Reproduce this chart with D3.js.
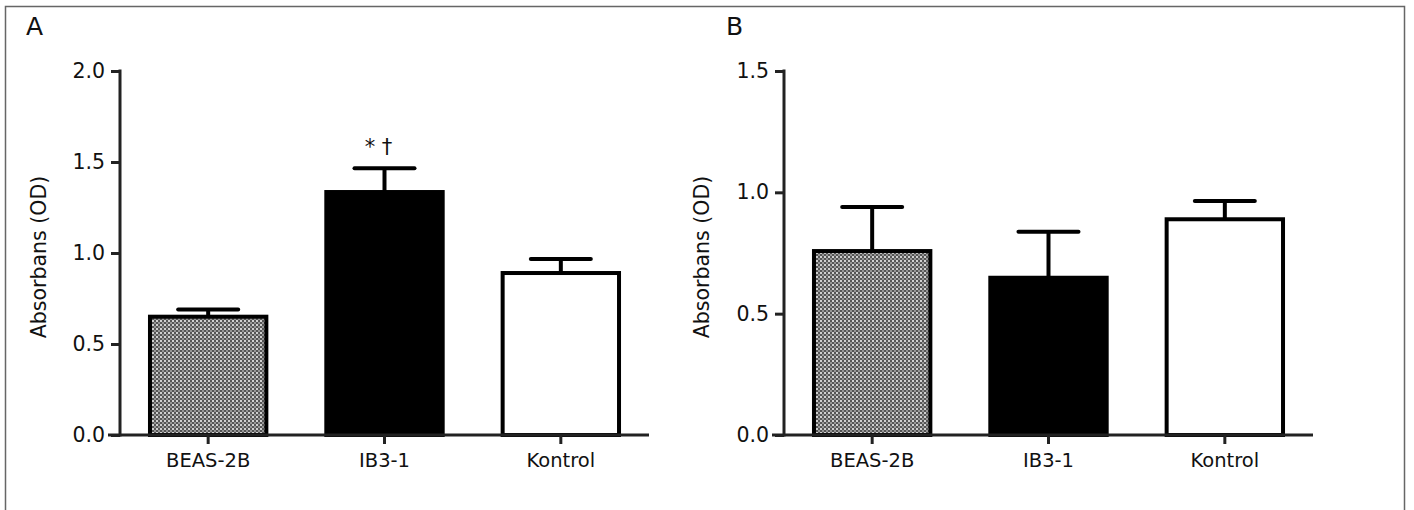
<!DOCTYPE html>
<html>
<head>
<meta charset="utf-8">
<script src="https://cdn.jsdelivr.net/npm/d3@7"></script>
<style>
  body { margin: 0; background: #fff; }
  text { font-family: "DejaVu Sans", "Liberation Sans", Arial, sans-serif; fill: #111; }
</style>
</head>
<body>
<svg width="1414" height="510"></svg>
<script>
var svg = d3.select("svg");

// data
var categories = ["BEAS-2B", "IB3-1", "Kontrol"];
var meansA = [0.65, 1.335, 0.89];
var errA = [0.04, 0.13, 0.077];
var meansB = [0.758, 0.648, 0.889];
var errB = [0.182, 0.19, 0.075];
var ticksA = [0, 0.5, 1.0, 1.5, 2.0];
var ticksB = [0, 0.5, 1.0, 1.5];
var fills = ["url(#dots)", "#000", "#fff"];

// dotted grey fill used for BEAS-2B
var defs = svg.append("defs");
var pat = defs.append("pattern")
    .attr("id", "dots")
    .attr("width", 4).attr("height", 4)
    .attr("patternUnits", "userSpaceOnUse");
pat.append("rect").attr("width", 4).attr("height", 4).attr("fill", "#555");
pat.append("rect").attr("x", 0).attr("y", 0).attr("width", 2).attr("height", 2).attr("fill", "#d0d0d0");
pat.append("rect").attr("x", 2).attr("y", 2).attr("width", 2).attr("height", 2).attr("fill", "#969696");

// outer frame
svg.append("rect")
    .attr("x", 5.5).attr("y", 6.5)
    .attr("width", 1399).attr("height", 520)
    .attr("fill", "none")
    .attr("stroke", "#666")
    .attr("stroke-width", 1.5);

function panel(opts) {
  var g = svg.append("g");

  var x = d3.scaleBand()
      .domain(categories)
      .range([opts.left, opts.left + 529])
      .paddingInner(0.34)
      .paddingOuter(0.17);

  var y = d3.scaleLinear()
      .domain([0, opts.max])
      .range([435, 71]);

  // y axis
  var yAxis = g.append("g")
      .attr("transform", "translate(" + opts.left + ",0)")
      .call(d3.axisLeft(y)
          .tickValues(opts.ticks)
          .tickFormat(d3.format(".1f"))
          .tickSize(9)
          .tickPadding(6));
  yAxis.select(".domain").remove();
  yAxis.selectAll(".tick line").attr("stroke", "#222").attr("stroke-width", 3);
  yAxis.selectAll(".tick text")
      .style("font-family", "'DejaVu Sans', sans-serif")
      .style("font-size", "20.5px")
      .attr("fill", "#111");
  g.append("line")
      .attr("x1", opts.left).attr("x2", opts.left)
      .attr("y1", y(opts.max) - 1.5).attr("y2", y(0) + 1.5)
      .attr("stroke", "#222").attr("stroke-width", 3);

  // bars
  g.selectAll(".bar")
    .data(opts.means)
    .enter().append("rect")
      .attr("class", "bar")
      .attr("x", function(d, i) { return x(categories[i]); })
      .attr("y", function(d) { return y(d); })
      .attr("width", x.bandwidth())
      .attr("height", function(d) { return y(0) - y(d); })
      .attr("fill", function(d, i) { return fills[i]; })
      .attr("stroke", "#000")
      .attr("stroke-width", 4);

  // upper error bars
  var eb = g.selectAll(".err")
    .data(opts.means)
    .enter().append("g")
      .attr("class", "err")
      .attr("transform", function(d, i) { return "translate(" + (x(categories[i]) + x.bandwidth() / 2) + ",0)"; });
  eb.append("line")
      .attr("y1", function(d) { return y(d); })
      .attr("y2", function(d, i) { return y(d + opts.err[i]); })
      .attr("stroke", "#000").attr("stroke-width", 4);
  eb.append("line")
      .attr("x1", -30).attr("x2", 30)
      .attr("y1", function(d, i) { return y(d + opts.err[i]); })
      .attr("y2", function(d, i) { return y(d + opts.err[i]); })
      .attr("stroke", "#000").attr("stroke-width", 4)
      .attr("stroke-linecap", "round");

  // x axis
  var xAxis = g.append("g")
      .attr("transform", "translate(0,435)")
      .call(d3.axisBottom(x).tickSize(9).tickPadding(9).tickSizeOuter(0));
  xAxis.select(".domain")
      .attr("d", "M" + (opts.left - 12) + ",0H" + (opts.left + 529))
      .attr("stroke", "#222").attr("stroke-width", 3);
  xAxis.selectAll(".tick line").attr("stroke", "#222").attr("stroke-width", 3);
  xAxis.selectAll(".tick text")
      .style("font-family", "'DejaVu Sans', sans-serif")
      .style("font-size", "19.5px")
      .attr("fill", "#111");

  // y title
  g.append("text")
      .attr("transform", "translate(" + opts.titleX + ",257) rotate(-90)")
      .attr("text-anchor", "middle")
      .style("font-size", "20.5px")
      .text("Absorbans (OD)");

  // panel letter
  g.append("text")
      .attr("x", opts.letterX).attr("y", 35)
      .style("font-size", "25px")
      .text(opts.letter);

  return {x: x, y: y, g: g};
}

var a = panel({left: 120, max: 2.0, ticks: ticksA, means: meansA, err: errA,
               titleX: 46, letter: "A", letterX: 26});
panel({left: 784, max: 1.5, ticks: ticksB, means: meansB, err: errB,
       titleX: 709, letter: "B", letterX: 726});

// significance marks above IB3-1
a.g.append("text")
    .attr("x", a.x("IB3-1") + a.x.bandwidth() / 2 - 6)
    .attr("y", a.y(meansA[1] + errA[1]) - 14)
    .attr("text-anchor", "middle")
    .style("font-size", "21px")
    .text("* \u2020");
</script>
</body>
</html>
